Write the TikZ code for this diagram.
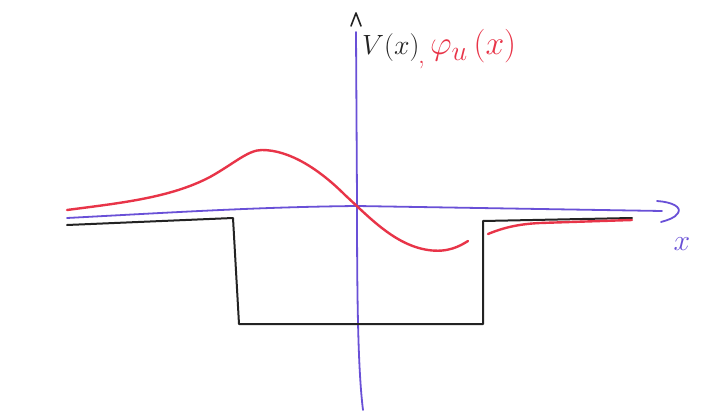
\documentclass[tikz,border=0pt]{standalone}
\usepackage{graphicx}
\definecolor{penblue}{RGB}{105,80,215}
\definecolor{penred}{RGB}{232,52,72}
\definecolor{penblack}{RGB}{35,35,35}
\tikzset{
  axisline/.style={draw=penblue, line width=1.8pt, line cap=round, line join=round},
  potline/.style={draw=penblack, line width=2pt, line cap=round, line join=round},
  waveline/.style={draw=penred, line width=2.4pt, line cap=round, line join=round},
  handtext/.style={font=\fontsize{24.88}{30}\selectfont, inner sep=0pt, anchor=base west}
}
\begin{document}
\begin{tikzpicture}[x=1pt,y=-1pt]
\useasboundingbox (0,0) rectangle (726,412);
\fill[white] (0,0) rectangle (726,412);
% vertical axis
\coordinate (vbot) at (363,410);
\coordinate (vtop) at (356,32);
\draw[axisline] (vbot) .. controls (358,370) and (357,300) .. (357,200) -- (vtop);
\draw[potline, line width=1.6pt] (351,26) -- (356,13) -- (361,26);
% horizontal axis
\coordinate (hleft) at (67,218);
\coordinate (hright) at (662,211);
\draw[axisline] (hleft) .. controls (180,212) and (260,207) .. (357,206) -- (hright);
\draw[axisline] (657,201) .. controls (672,202) and (682,207) .. (678,213) .. controls (675,218) and (668,220) .. (661,222);
\node[text=penblue, handtext, anchor=center] (xlab) at (682,244) {\scalebox{1.2}{$x$}};
% potential
\coordinate (p1) at (67,225);
\coordinate (p2) at (233,218);
\coordinate (p3) at (239,324);
\coordinate (p4) at (483,324);
\coordinate (p5) at (483,221);
\coordinate (p6) at (632,218);
\draw[potline] (p1) -- (p2) -- (p3) -- (p4) -- (p5) -- (p6);
% wave function
\draw[waveline] (67,210) .. controls (120,203) and (170,198) .. (210,177)
  .. controls (235,163) and (248,150) .. (262,150)
  .. controls (290,150) and (320,170) .. (345,195)
  .. controls (370,218) and (395,245) .. (428,250)
  .. controls (448,253) and (460,246) .. (468,241);
\draw[waveline] (488,234) .. controls (505,227) and (520,224) .. (540,223) -- (632,220);
% labels
\node[handtext, text=penblack] (vlab) at (362,55) {\scalebox{1.12}{$V(x)$}};
\node[handtext, text=penred] (comma) at (418,64) {\scalebox{1.1}{,}};
\node[handtext, text=penred] (philab) at (430,55) {\scalebox{1.35}{$\varphi_u\,(x)$}};
\end{tikzpicture}
\end{document}
